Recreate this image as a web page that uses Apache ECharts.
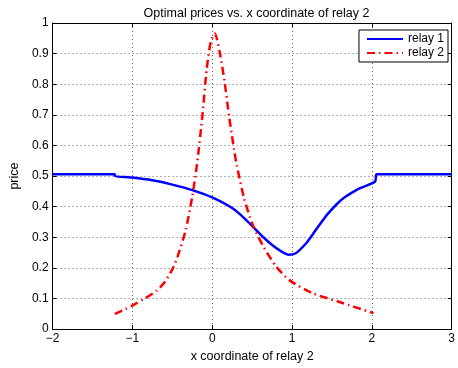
<!DOCTYPE html>
<html><head><meta charset="utf-8">
<script src="https://cdn.jsdelivr.net/npm/echarts@6/dist/echarts.min.js"></script>
<style>html,body{margin:0;padding:0;background:#fff}#c{width:458px;height:368px}</style>
</head><body><div id="c"></div>
<script>
const titleText = 'Optimal prices vs. x coordinate of relay 2';
const xName = 'x coordinate of relay 2';
const yName = 'price';
const seriesNames = ['relay 1', 'relay 2'];

const relay1X = [-2, -1.22, -1.22, -1.0, -0.75, -0.5, -0.25, 0.0, 0.235, 0.357, 0.511, 0.641, 0.763, 0.865, 0.957, 1.047, 1.169, 1.25, 1.331, 1.453, 1.575, 1.656, 1.778, 1.859, 2.041, 2.06, 3];
const relay1Y = [0.506, 0.506, 0.500, 0.495, 0.486, 0.472, 0.454, 0.430, 0.398, 0.373, 0.334, 0.300, 0.272, 0.254, 0.243, 0.248, 0.278, 0.306, 0.336, 0.378, 0.412, 0.430, 0.450, 0.461, 0.482, 0.506, 0.506];

const relay2X = [-1.22, -1.1, -0.98, -0.85, -0.7, -0.6, -0.5, -0.435, -0.334, -0.252, -0.19, -0.122, -0.069, -0.017, 0.032, 0.093, 0.154, 0.214, 0.275, 0.308, 0.397, 0.511, 0.641, 0.8, 0.966, 1.25, 1.575, 2.02];
const relay2Y = [0.050, 0.064, 0.080, 0.099, 0.125, 0.152, 0.195, 0.236, 0.322, 0.430, 0.540, 0.700, 0.850, 0.940, 0.966, 0.905, 0.810, 0.690, 0.585, 0.535, 0.430, 0.338, 0.270, 0.205, 0.160, 0.118, 0.090, 0.052];

const FONT = '"Liberation Sans", Arial, Helvetica, sans-serif';
const minusFmt = v => String(v).replace('-', '\u2212');

const chart = echarts.init(document.getElementById('c'), null, {renderer: 'canvas'});
const gridLine = {show: true, lineStyle: {color: '#666', width: 1, type: [1, 3]}};
const axisLineBlack = {show: true, onZero: false, lineStyle: {color: '#000', width: 1}};
const tickIn = {show: true, inside: true, length: 4, lineStyle: {color: '#000'}};

chart.setOption({
  animation: false,
  backgroundColor: '#fff',
  title: {
    text: titleText, left: 251.5, top: 2, textAlign: 'center',
    textStyle: {fontFamily: FONT, fontSize: 12.5, fontWeight: 'normal', color: '#000'}
  },
  legend: {
    data: seriesNames.map(n => ({name: n, itemStyle: {opacity: 0}})),
    orient: 'vertical', right: 10, top: 30,
    backgroundColor: '#fff', borderColor: '#000', borderWidth: 1,
    padding: [3, 4, 3, 7], itemGap: 2, itemWidth: 36, itemHeight: 12,
    textStyle: {fontFamily: FONT, fontSize: 12, color: '#000'}
  },
  grid: {left: 46, right: 1, top: 23, bottom: 36, containLabel: false},
  xAxis: [{
    type: 'value', min: -2, max: 3, interval: 1, position: 'bottom',
    name: xName, nameLocation: 'middle', nameGap: 17,
    nameTextStyle: {fontFamily: FONT, fontSize: 12.5, color: '#000'},
    axisLine: axisLineBlack, axisTick: tickIn, splitLine: gridLine,
    axisLabel: {formatter: minusFmt, fontFamily: FONT, fontSize: 12, color: '#000', margin: 4, showMaxLabel: true, showMinLabel: true}
  }, {
    type: 'value', min: -2, max: 3, interval: 1, position: 'top',
    axisLine: axisLineBlack, axisTick: tickIn, splitLine: {show: false}, axisLabel: {show: false}
  }],
  yAxis: [{
    type: 'value', min: 0, max: 1, interval: 0.1, position: 'left',
    name: yName, nameLocation: 'middle', nameGap: 30,
    nameTextStyle: {fontFamily: FONT, fontSize: 12.5, color: '#000'},
    axisLine: axisLineBlack, axisTick: tickIn, splitLine: gridLine,
    axisLabel: {formatter: v => String(Math.round(v * 10) / 10), fontFamily: FONT, fontSize: 12, color: '#000', margin: 4}
  }, {
    type: 'value', min: 0, max: 1, interval: 0.1, position: 'right',
    axisLine: axisLineBlack, axisTick: tickIn, splitLine: {show: false}, axisLabel: {show: false}
  }],
  series: [{
    name: seriesNames[0], type: 'line', showSymbol: false, symbol: 'none',
    smooth: 0.25,
    data: relay1X.map((x, i) => [x, relay1Y[i]]),
    lineStyle: {color: '#0000ff', width: 2.5}, itemStyle: {color: '#0000ff'}
  }, {
    name: seriesNames[1], type: 'line', showSymbol: false, symbol: 'none',
    smooth: 0.25,
    data: relay2X.map((x, i) => [x, relay2Y[i]]),
    lineStyle: {color: '#ff0000', width: 2.5, type: [8, 4, 1.5, 4]}, itemStyle: {color: '#ff0000'}
  }]
});
</script></body></html>
